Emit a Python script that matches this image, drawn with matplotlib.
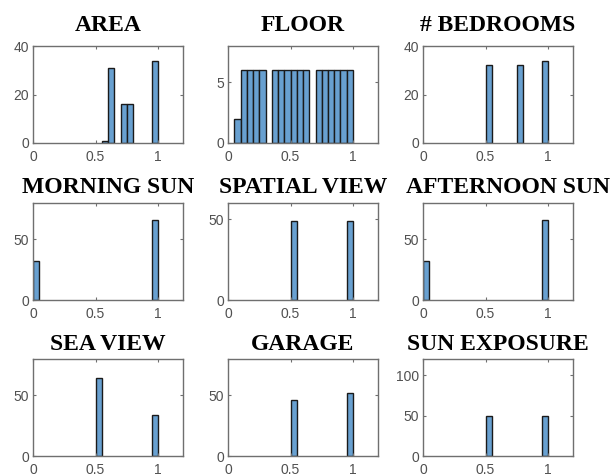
import matplotlib
matplotlib.use("Agg")
import matplotlib.pyplot as plt

BIN_W = 0.05

titles = ["AREA", "FLOOR", "# BEDROOMS",
          "MORNING SUN", "SPATIAL VIEW", "AFTERNOON SUN",
          "SEA VIEW", "GARAGE", "SUN EXPOSURE"]

# left edge of each occupied bin and its count
area_bins = [0.55, 0.60, 0.70, 0.75, 0.95]
area_counts = [1, 31, 16, 16, 34]

floor_bins = [0.05, 0.10, 0.15, 0.20, 0.25, 0.35, 0.40, 0.45, 0.50, 0.55, 0.60,
              0.70, 0.75, 0.80, 0.85, 0.90, 0.95]
floor_counts = [2, 6, 6, 6, 6, 6, 6, 6, 6, 6, 6, 6, 6, 6, 6, 6, 6]

bedroom_bins = [0.50, 0.75, 0.95]
bedroom_counts = [32, 32, 34]

morning_bins = [0.00, 0.95]
morning_counts = [32, 66]

spatial_bins = [0.50, 0.95]
spatial_counts = [49, 49]

afternoon_bins = [0.00, 0.95]
afternoon_counts = [32, 66]

sea_bins = [0.50, 0.95]
sea_counts = [64, 34]

garage_bins = [0.50, 0.95]
garage_counts = [46, 52]

sunexp_bins = [0.50, 0.95]
sunexp_counts = [49, 49]

ylims = [40, 8, 40, 80, 60, 80, 80, 80, 120]
yticks = [[0, 20, 40], [0, 5], [0, 20, 40],
          [0, 50], [0, 50], [0, 50],
          [0, 50], [0, 50], [0, 50, 100]]

series = [(area_bins, area_counts), (floor_bins, floor_counts),
          (bedroom_bins, bedroom_counts), (morning_bins, morning_counts),
          (spatial_bins, spatial_counts), (afternoon_bins, afternoon_counts),
          (sea_bins, sea_counts), (garage_bins, garage_counts),
          (sunexp_bins, sunexp_counts)]

W, H = 613, 476
fig = plt.figure(figsize=(W / 100, H / 100), dpi=100)

col_left = [33, 228, 423]
col_w = 150
row_top = [46, 203, 359]
row_h = 97
title_pad = [11, 7, 6.5]
title_x = [0.5] * 9
title_x[5] = 0.57

axis_grey = "#6f6f6f"
bar_face = "#68a0d0"

for i, (bins, counts) in enumerate(series):
    r, c = divmod(i, 3)
    ax = fig.add_axes([col_left[c] / W, 1 - (row_top[r] + row_h) / H,
                       col_w / W, row_h / H])
    ax.bar(bins, counts, width=BIN_W, align="edge", color=bar_face,
           edgecolor="#1a1a1a", linewidth=1.0)
    ax.set_xlim(0, 1.2)
    ax.set_ylim(0, ylims[i])
    ax.set_xticks([0, 0.5, 1])
    ax.set_xticklabels(["0", "0.5", "1"])
    ax.set_yticks(yticks[i])
    ax.tick_params(direction="in", top=True, right=True, length=2.5,
                   width=0.8, color=axis_grey, labelsize=10,
                   labelcolor="#505050", pad=5)
    ax.tick_params(axis="y", pad=3)
    for sp in ax.spines.values():
        sp.set_color(axis_grey)
        sp.set_linewidth(1.0)
    for lab in ax.get_xticklabels() + ax.get_yticklabels():
        lab.set_family("Liberation Sans")
    ax.set_title(titles[i], fontsize=17, fontweight="bold",
                 family="Liberation Serif", pad=title_pad[r], x=title_x[i])

fig.savefig("out.png", dpi=100)
